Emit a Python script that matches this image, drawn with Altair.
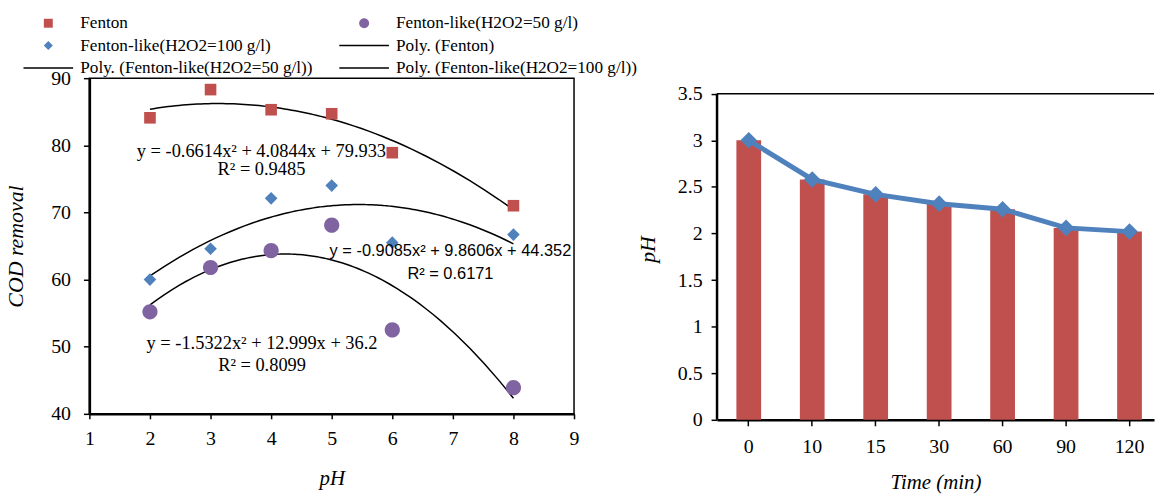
import altair as alt
import pandas as pd

SERIF = "Liberation Serif"
SANS = "Liberation Sans"
RED = "#C0504D"
BLUE = "#4F81BD"
PURPLE = "#8064A2"

# ---------------- left panel data ----------------
ph = [2, 3, 4, 5, 6, 8]
fenton = [84.1, 88.3, 85.3, 84.7, 78.9, 71.0]
fl50 = [55.2, 61.8, 64.3, 68.1, 52.5, 43.9]
fl100 = [60.0, 64.6, 72.1, 74.0, 65.5, 66.7]

S_F = "Fenton"
S_50 = "Fenton-like(H2O2=50 g/l)"
S_100 = "Fenton-like(H2O2=100 g/l)"
P_F = "Poly. (Fenton)"
P_50 = "Poly. (Fenton-like(H2O2=50 g/l))"
P_100 = "Poly. (Fenton-like(H2O2=100 g/l))"
# legend order (filled column by column)
legend_names = [S_F, S_100, P_50, S_50, P_F, P_100]

eq_text = [
    "y = -0.6614x² + 4.0844x + 79.933",
    "R² = 0.9485",
    "y = -0.9085x² + 9.8606x + 44.352",
    "R² = 0.6171",
    "y = -1.5322x² + 12.999x + 36.2",
    "R² = 0.8099",
]
eq_x = [3.84, 3.84, 6.96, 6.96, 3.85, 3.85]
eq_y = [79.2, 76.4, 64.2, 60.9, 50.6, 47.25]
eq_style = ["serif", "serif", "sans", "sans", "serif", "serif"]

# ---------------- right panel data ----------------
times = ["0", "10", "15", "30", "60", "90", "120"]
ph_time = [3.0, 2.58, 2.42, 2.32, 2.26, 2.06, 2.02]

pts = pd.DataFrame({
    "pH": ph * 3,
    "COD": fenton + fl50 + fl100,
    "series": [S_F] * 6 + [S_50] * 6 + [S_100] * 6,
})
eqs = pd.DataFrame({"x": eq_x, "y": eq_y, "t": eq_text, "s": eq_style})
df2 = pd.DataFrame({"Time": times, "pH": ph_time})

SQ = "M-0.53,-0.53H0.53V0.53H-0.53Z"
CI = "M0.588,0A0.588,0.588,0,1,1,-0.588,0A0.588,0.588,0,1,1,0.588,0Z"
DI = "M0,-0.53L0.53,0L0,0.53L-0.53,0Z"
LN = "M-2.94,-0.088H2.94V0.088H-2.94Z"

color_scale = alt.Scale(domain=legend_names, range=[RED, BLUE, "black", PURPLE, "black", "black"])
shape_scale = alt.Scale(domain=legend_names, range=[SQ, DI, LN, CI, LN, LN])

legend = alt.Legend(
    title=None, orient="none", legendX=-50, legendY=-64, columns=2,
    columnPadding=26, rowPadding=4.5, symbolSize=289, labelFont=SERIF,
    labelFontSize=17.3, labelOffset=23.5, labelLimit=500, padding=0,
    symbolStrokeWidth=0, symbolOpacity=1, labelColor="black",
)

xl = alt.X("pH:Q", scale=alt.Scale(domain=[1, 9], nice=False),
           axis=alt.Axis(values=list(range(1, 10)), format="d", title="pH",
                         tickSize=5, labelPadding=10, titlePadding=19,
                         titleFontSize=21, labelFlush=False))
yl = alt.Y("COD:Q", scale=alt.Scale(domain=[40, 90], nice=False),
           axis=alt.Axis(values=list(range(40, 91, 5)), format="d",
                         labelExpr="datum.value % 10 == 0 ? datum.label : ''",
                         title="COD removal", tickSize=6, labelPadding=13,
                         titlePadding=23, labelFlush=False))

base = alt.Chart(pts)


def pts_layer(name, size):
    return base.transform_filter(alt.datum.series == name).mark_point(
        filled=True, size=size, opacity=1, strokeWidth=0
    ).encode(
        x=xl, y=yl,
        color=alt.Color("series:N", scale=color_scale, legend=legend),
        shape=alt.Shape("series:N", scale=shape_scale, legend=legend),
    )


trend = base.transform_regression(
    "pH", "COD", groupby=["series"], method="poly", order=2, extent=[2, 8]
).mark_line(color="black", strokeWidth=1.5).encode(x=xl, y=yl, detail="series:N")

eq_serif = alt.Chart(eqs).transform_filter(alt.datum.s == "serif").mark_text(
    font=SERIF, fontSize=18.5, color="black", align="center", baseline="middle"
).encode(x=alt.X("x:Q"), y=alt.Y("y:Q"), text="t:N")
eq_sans = alt.Chart(eqs).transform_filter(alt.datum.s == "sans").mark_text(
    font=SANS, fontSize=16.5, color="black", align="center", baseline="middle"
).encode(x=alt.X("x:Q"), y=alt.Y("y:Q"), text="t:N")

left = alt.layer(
    trend,
    pts_layer(S_F, 487),
    pts_layer(S_100, 574),
    pts_layer(S_50, 676),
    eq_serif,
    eq_sans,
).properties(width=488, height=338,
             view=alt.ViewBackground(stroke="black", strokeWidth=1.5))

xr = alt.X("Time:N", sort=times,
           scale=alt.Scale(paddingInner=0.61, paddingOuter=0.248, align=0.615),
           axis=alt.Axis(labelAngle=0, title="Time (min)", tickSize=6,
                         labelPadding=11, titlePadding=15, titleFontSize=21))
yr = alt.Y("pH:Q", scale=alt.Scale(domain=[0, 3.667], nice=False),
           axis=alt.Axis(values=[i * 0.25 for i in range(15)], format=".2~f",
                         labelExpr="datum.value % 0.5 == 0 ? datum.label : ''",
                         domain=False, title="pH", tickSize=6, labelPadding=9,
                         titlePadding=18, labelFlush=False))

bars = alt.Chart(df2).mark_bar(color=RED).encode(x=xr, y=yr)
ln = alt.Chart(df2).mark_line(
    color=BLUE, strokeWidth=5,
    point=alt.OverlayMarkDef(shape="diamond", size=280, filled=True, color=BLUE, opacity=1),
).encode(x=xr, y=yr)
frame_df = pd.DataFrame({"a": [0]})
toprule = alt.Chart(frame_df).mark_rule(color="black", strokeWidth=1.5).encode(
    y=alt.datum(3.5))
yline = alt.Chart(frame_df).mark_rule(color="black", strokeWidth=2.5).encode(
    x=alt.value(0), y=alt.datum(0), y2=alt.datum(3.5))

right = alt.layer(bars, ln, toprule, yline).properties(width=440, height=344)

chart = alt.hconcat(left, right, spacing=56).properties(
    padding={"left": 4, "top": 13, "right": 0, "bottom": 0}
).configure_view(stroke="transparent").configure_axis(
    grid=False, domainColor="black", tickColor="black", labelColor="black",
    titleColor="black", labelFont=SERIF, labelFontSize=20, titleFont=SERIF,
    titleFontSize=22, titleFontStyle="italic", titleFontWeight="normal",
    domainWidth=2.5, tickWidth=1.5,
)

chart.save("out.html", embed_options={"renderer": "svg", "actions": False})
